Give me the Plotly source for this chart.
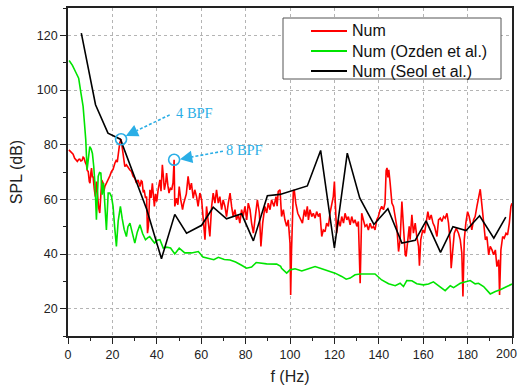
import math
import plotly.graph_objects as go

# ---- spectra: frequency (Hz) and sound pressure level (dB) ----
num_f = [
    0.4, 1.5, 2.3, 3.0, 3.6, 4.2, 4.8, 5.3, 5.8, 6.3,
    6.8, 7.2, 7.8, 8.3, 8.7, 9.1, 9.6, 9.9, 10.3, 10.6,
    11.0, 11.3, 11.8, 12.3, 12.8, 13.3, 13.8, 14.3, 14.7, 15.2,
    15.8, 16.2, 16.6, 17.3, 18.1, 18.8, 19.6, 20.3, 21.1, 21.8,
    22.2, 22.6, 23.3, 23.9, 24.4, 24.8, 25.2, 25.6, 26.3, 27.1,
    27.8, 28.6, 29.3, 30.1, 30.8, 31.6, 32.4, 33.0, 33.4, 33.9,
    34.3, 34.9, 35.4, 35.8, 36.2, 36.9, 37.4, 38.0, 38.5, 38.9,
    39.4, 40.0, 40.6, 41.4, 41.9, 42.5, 43.0, 43.4, 44.0, 44.4,
    45.0, 45.5, 46.1, 46.7, 47.3, 47.8, 48.1, 48.9, 49.5, 50.1,
    50.8, 51.6, 52.1, 52.6, 53.3, 54.1, 54.5, 54.9, 55.6, 56.4,
    57.1, 57.9, 58.6, 59.4, 60.2, 60.9, 61.7, 62.4, 63.2, 63.9,
    64.7, 65.4, 66.2, 66.9, 67.7, 68.4, 69.2, 69.9, 70.7, 71.4,
    72.2, 73.0, 73.7, 74.4, 75.2, 75.9, 76.7, 77.4, 78.2, 78.9,
    79.7, 80.5, 81.2, 82.0, 82.7, 83.5, 84.2, 85.3, 86.2, 86.9,
    87.7, 88.7, 89.5, 90.2, 91.0, 91.7, 92.8, 93.7, 94.2, 94.7,
    95.5, 96.2, 97.0, 97.7, 98.5, 99.2, 100.0, 100.3, 100.7, 101.5,
    101.9, 102.6, 103.5, 104.1, 105.0, 105.6, 106.5, 107.1, 107.8, 108.3,
    109.0, 109.8, 110.5, 111.3, 112.0, 112.8, 113.5, 114.3, 115.0, 115.8,
    116.5, 117.3, 118.0, 118.8, 119.5, 120.0, 120.6, 121.0, 121.8, 122.6,
    123.3, 124.1, 124.8, 125.6, 126.3, 127.1, 127.8, 128.6, 129.3, 130.1,
    130.8, 131.6, 132.3, 133.1, 133.8, 134.6, 135.3, 136.1, 136.8, 137.6,
    138.3, 139.1, 139.8, 140.6, 141.3, 142.1, 142.8, 143.3, 143.7, 144.1,
    144.5, 145.1, 145.9, 146.6, 147.4, 148.1, 148.9, 149.6, 150.4, 151.1,
    151.9, 152.3, 152.9, 153.7, 154.1, 154.9, 155.6, 156.4, 157.1, 157.9,
    158.3, 158.9, 159.8, 160.6, 161.3, 162.1, 162.8, 163.6, 164.4, 165.1,
    166.2, 166.9, 167.7, 168.4, 169.2, 169.9, 170.7, 171.4, 172.2, 172.6,
    173.2, 174.0, 174.9, 175.9, 176.7, 177.4, 177.9, 178.5, 179.2, 180.0,
    180.7, 181.2, 181.9, 182.7, 183.4, 184.2, 184.9, 185.7, 186.5, 187.2,
    188.0, 188.7, 189.5, 190.2, 191.0, 191.7, 192.5, 193.2, 194.0, 194.4,
    195.0, 195.8, 196.5, 197.3, 198.0, 198.8, 199.5, 200.0,
]
num_spl = [
    78.1, 77.1, 76.5, 75.0, 74.3, 73.9, 74.6, 74.7, 74.0, 74.2,
    75.4, 75.1, 73.5, 72.6, 70.5, 70.2, 66.5, 65.9, 69.8, 71.4,
    68.0, 68.4, 64.0, 61.0, 66.5, 60.5, 57.0, 55.0, 62.0, 67.0,
    66.0, 63.0, 64.7, 65.8, 67.1, 68.5, 70.2, 71.0, 73.2, 74.5,
    73.6, 76.9, 80.6, 82.0, 79.5, 76.9, 74.0, 72.0, 72.6, 71.4,
    70.8, 70.2, 68.5, 67.7, 66.0, 67.1, 64.7, 66.8, 66.5, 62.5,
    63.5, 60.5, 61.0, 47.6, 50.0, 63.5, 60.5, 65.9, 61.0, 57.4,
    62.0, 59.2, 63.5, 67.1, 63.0, 72.6, 68.0, 63.5, 66.0, 69.6,
    65.0, 62.3, 64.0, 63.5, 66.0, 74.5, 57.4, 60.4, 58.0, 64.7,
    59.8, 56.2, 58.5, 60.4, 62.0, 68.4, 66.0, 63.5, 65.9, 60.4,
    63.5, 61.0, 57.4, 62.3, 59.8, 53.7, 45.2, 57.4, 52.5, 46.4,
    57.4, 62.3, 58.6, 63.5, 58.6, 61.0, 56.2, 59.8, 57.4, 53.7,
    58.6, 62.3, 57.4, 53.7, 56.2, 52.5, 54.3, 51.3, 56.2, 53.7,
    57.4, 52.5, 58.6, 56.2, 51.3, 47.6, 52.5, 59.8, 55.0, 42.8,
    51.3, 57.4, 55.0, 58.6, 56.2, 59.8, 57.4, 61.0, 57.5, 62.9,
    63.5, 53.7, 56.2, 52.5, 50.1, 52.5, 44.0, 25.0, 41.5, 62.9,
    63.5, 58.6, 54.9, 53.7, 52.5, 51.3, 56.2, 53.7, 57.4, 52.5,
    56.2, 53.7, 54.9, 53.1, 55.5, 53.7, 54.9, 46.4, 48.8, 48.2,
    51.3, 50.1, 54.9, 58.6, 61.0, 66.5, 56.2, 47.6, 52.5, 50.1,
    53.7, 51.3, 54.9, 52.5, 53.7, 50.7, 53.7, 51.3, 52.5, 50.1,
    51.9, 29.3, 54.9, 52.5, 50.1, 50.7, 48.8, 51.3, 49.4, 50.1,
    48.8, 52.5, 53.7, 56.2, 57.4, 56.2, 58.6, 70.5, 71.5, 68.0,
    70.8, 66.0, 58.6, 57.4, 53.7, 50.1, 40.9, 45.2, 59.2, 50.1,
    39.7, 39.1, 45.2, 50.1, 45.2, 54.3, 47.6, 51.3, 46.4, 42.8,
    35.7, 45.2, 48.8, 47.6, 51.3, 55.5, 52.5, 54.3, 51.3, 50.1,
    46.4, 52.5, 53.1, 51.9, 53.7, 53.1, 54.9, 51.3, 44.0, 34.8,
    40.3, 47.6, 49.4, 47.6, 45.2, 40.3, 24.5, 45.2, 51.3, 55.5,
    53.7, 51.3, 48.8, 52.5, 53.7, 57.4, 61.0, 63.7, 57.4, 51.3,
    45.2, 46.4, 39.7, 42.8, 41.5, 39.7, 41.5, 35.4, 37.9, 25.0,
    41.5, 46.4, 45.8, 47.6, 47.0, 51.3, 57.4, 58.6,
]

ozden_f = [
    0.5, 2.0, 3.5, 4.8, 5.8, 6.8, 7.4, 8.0, 8.6, 9.2,
    9.8, 10.4, 11.0, 11.6, 12.2, 12.8, 13.6, 14.2, 14.8, 15.4,
    16.0, 16.6, 17.3, 18.1, 18.8, 19.6, 20.3, 21.0, 21.8, 22.6,
    23.6, 24.4, 25.3, 26.3, 27.0, 27.9, 28.8, 30.1, 31.2, 32.4,
    33.6, 34.9, 36.0, 36.8, 38.0, 39.0, 40.2, 41.4, 42.9, 44.4,
    46.2, 48.1, 50.1, 52.6, 55.6, 58.7, 60.8, 63.5, 65.7, 67.7,
    70.4, 73.0, 75.5, 78.2, 80.4, 82.7, 84.8, 89.5, 94.0, 95.8,
    96.2, 98.5, 100.0, 102.3, 105.3, 108.3, 111.3, 114.3, 118.0, 120.3,
    123.3, 125.3, 127.1, 129.3, 131.6, 138.3, 141.3, 144.4, 147.4, 149.6,
    151.1, 152.6, 154.9, 157.1, 160.1, 162.4, 164.6, 166.9, 169.9, 172.2,
    173.7, 176.7, 178.9, 181.2, 183.4, 184.9, 187.2, 190.2, 192.5, 194.7,
    197.7, 200.0,
]
ozden_spl = [
    110.8, 109.0, 106.5, 104.3, 99.0, 94.0, 88.0, 81.8, 70.8, 75.0,
    79.3, 78.5, 76.8, 72.0, 65.0, 52.5, 68.4, 69.8, 69.6, 61.7,
    66.0, 58.0, 48.8, 62.3, 62.3, 61.0, 57.4, 50.0, 42.8, 52.0,
    57.4, 53.0, 49.0, 46.4, 50.0, 51.3, 48.0, 44.0, 48.0, 50.7,
    47.5, 45.2, 46.0, 46.4, 45.0, 44.0, 45.0, 45.2, 42.2, 42.5,
    42.2, 40.0, 42.1, 40.4, 40.4, 40.9, 38.9, 38.4, 37.9, 38.8,
    38.0, 37.8, 37.1, 35.9, 34.8, 35.2, 36.9, 36.4, 36.3, 35.5,
    34.8, 33.0, 34.2, 34.6, 33.8, 34.6, 35.4, 34.6, 33.6, 33.0,
    31.8, 30.8, 31.2, 32.4, 32.7, 32.7, 30.5, 29.1, 28.4, 29.3,
    28.1, 30.3, 30.2, 29.1, 28.7, 29.0, 29.8, 28.4, 26.6, 28.4,
    27.7, 29.3, 29.9, 30.3, 29.1, 29.3, 28.1, 25.4, 26.3, 26.9,
    28.1, 29.0,
]

seol_f = [
    6.0, 12.4, 18.0, 23.6, 35.4, 42.1, 48.1, 53.4, 60.2, 65.4,
    71.4, 78.2, 83.5, 89.8, 95.5, 107.8, 113.8, 120.0, 125.8, 131.4,
    137.8, 144.1, 150.4, 156.4, 161.3, 167.8, 173.4, 179.3, 185.4, 191.8,
    197.2,
]
seol_spl = [
    120.8, 94.6, 84.2, 82.0, 56.5, 38.3, 54.5, 47.6, 50.5, 57.1,
    52.9, 54.7, 44.8, 61.3, 61.8, 64.9, 77.9, 42.2, 76.9, 60.5,
    50.8, 56.6, 44.0, 45.0, 52.1, 40.6, 50.0, 48.6, 54.0, 45.8,
    53.5,
]

series_names = ["Num", "Num (Ozden et al.)", "Num (Seol et al.)"]
series_colors = ["#ff0000", "#00e400", "#000000"]
x_ticks = [0, 20, 40, 60, 80, 100, 120, 140, 160, 180, 200]
y_ticks = [20, 40, 60, 80, 100, 120]

# ---- layout geometry ----
W, H = 520, 390
ML, MR, MT, MB = 68, 8, 8, 54
X_RANGE = (0, 200)
Y_RANGE = (10, 130)
PW, PH = W - ML - MR, H - MT - MB
SX = PW / (X_RANGE[1] - X_RANGE[0])
SY = PH / (Y_RANGE[1] - Y_RANGE[0])
CYAN = "#2aaee6"
FONT = "Liberation Sans, Arial, sans-serif"
TICK_FONT = dict(family=FONT, size=12.5, color="#222222")


def px_to_paper(px, py):
    return (px - ML) / PW, 1 - (py - MT) / PH


def peak_near(f_lo, f_hi):
    idx = [i for i, f in enumerate(num_f) if f_lo <= f <= f_hi]
    best = max(idx, key=lambda i: num_spl[i])
    return num_f[best], num_spl[best]


fig = go.Figure()
for f, v, name, col in [
    (num_f, num_spl, series_names[0], series_colors[0]),
    (ozden_f, ozden_spl, series_names[1], series_colors[1]),
    (seol_f, seol_spl, series_names[2], series_colors[2]),
]:
    fig.add_trace(go.Scatter(x=f, y=v, mode="lines", name=name,
                             line=dict(color=col, width=1.6),
                             showlegend=False))

# blade-passing-frequency harmonics marked with open circles
bpf4 = peak_near(20, 30)
bpf8 = peak_near(45, 50)
fig.add_trace(go.Scatter(
    x=[bpf4[0], bpf8[0]], y=[bpf4[1], bpf8[1]], mode="markers",
    marker=dict(symbol="circle-open", size=11, color=CYAN,
                line=dict(width=1.6, color=CYAN)),
    showlegend=False, hoverinfo="skip"))

shapes = []
annotations = []

# dashed callout arrows: (label, text position, tail, tip)
callouts = [
    ("4 BPF", (47.6, 91.5), (45.8, 90.9), (26.0, 83.2)),
    ("8 BPF", (70.3, 77.9), (69.8, 77.6), (50.4, 74.7)),
]
HEAD = 12.0
for label, tpos, tail, tip in callouts:
    dx = (tail[0] - tip[0]) * SX
    dy = (tail[1] - tip[1]) * SY
    d = math.hypot(dx, dy)
    base = (tip[0] + (tail[0] - tip[0]) * HEAD / d,
            tip[1] + (tail[1] - tip[1]) * HEAD / d)
    shapes.append(dict(type="line", xref="x", yref="y",
                       x0=tail[0], y0=tail[1], x1=base[0], y1=base[1],
                       line=dict(color=CYAN, width=1.6, dash="3px,2px")))
    annotations.append(dict(x=tip[0], y=tip[1], xref="x", yref="y",
                            ax=base[0], ay=base[1], axref="x", ayref="y",
                            text="", showarrow=True, arrowhead=2,
                            arrowsize=1.9, arrowwidth=1.3,
                            arrowcolor=CYAN, standoff=0))
    annotations.append(dict(x=tpos[0], y=tpos[1], xref="x", yref="y",
                            text=label, showarrow=False,
                            xanchor="left", yanchor="middle",
                            font=dict(family="Liberation Serif, Times New Roman, serif",
                                      size=14.5, color=CYAN)))

# legend box
lx0, ly1 = px_to_paper(283, 18)
lx1, ly0 = px_to_paper(501, 79)
shapes.append(dict(type="rect", xref="paper", yref="paper",
                   x0=lx0, y0=ly0, x1=lx1, y1=ly1,
                   line=dict(color="#555555", width=1),
                   fillcolor="white", layer="above"))
for k, (name, col) in enumerate(zip(series_names, series_colors)):
    row_y = 31 + 20 * k
    sx0, sy = px_to_paper(311, row_y)
    sx1, _ = px_to_paper(347, row_y)
    shapes.append(dict(type="line", xref="paper", yref="paper",
                       x0=sx0, x1=sx1, y0=sy, y1=sy, layer="above",
                       line=dict(color=col, width=2)))
    tx, _ = px_to_paper(350, row_y)
    annotations.append(dict(x=tx, y=sy, xref="paper", yref="paper",
                            text=name, showarrow=False,
                            xanchor="left", yanchor="middle",
                            font=dict(family=FONT, size=16, color="#111111")))

# last x tick label is right-aligned so it stays inside the page
x_ticktext = [str(t) for t in x_ticks]
x_ticktext[-1] = ""
ex, ey = px_to_paper(W - 1, 354)
annotations.append(dict(x=ex, y=ey, xref="paper", yref="paper",
                        text=str(x_ticks[-1]), showarrow=False,
                        xanchor="right", yanchor="middle",
                        font=TICK_FONT))

axis_common = dict(
    showline=True, linecolor="#222222", linewidth=1.6, mirror=True,
    ticks="outside", ticklen=6, tickwidth=1.2, tickcolor="#222222",
    showgrid=True, gridcolor="#b4b4b4", gridwidth=1, griddash="dot",
    zeroline=False, automargin=False,
    tickfont=TICK_FONT,
    minor=dict(ticks="outside", ticklen=3, tickwidth=1.1,
               tickcolor="#222222", dtick=10, showgrid=False),
)

fig.update_layout(
    width=W, height=H,
    margin=dict(l=ML, r=MR, t=MT, b=MB),
    paper_bgcolor="white", plot_bgcolor="white",
    showlegend=False,
    shapes=shapes, annotations=annotations,
    xaxis=dict(range=list(X_RANGE), tickvals=x_ticks, ticktext=x_ticktext,
               title=dict(text="f (Hz)", standoff=10,
                          font=dict(family=FONT, size=16, color="#222222")),
               **axis_common),
    yaxis=dict(range=list(Y_RANGE), tickvals=y_ticks,
               title=dict(text="SPL (dB)", standoff=10,
                          font=dict(family=FONT, size=16, color="#222222")),
               **axis_common),
)

fig.write_html("out.html")
